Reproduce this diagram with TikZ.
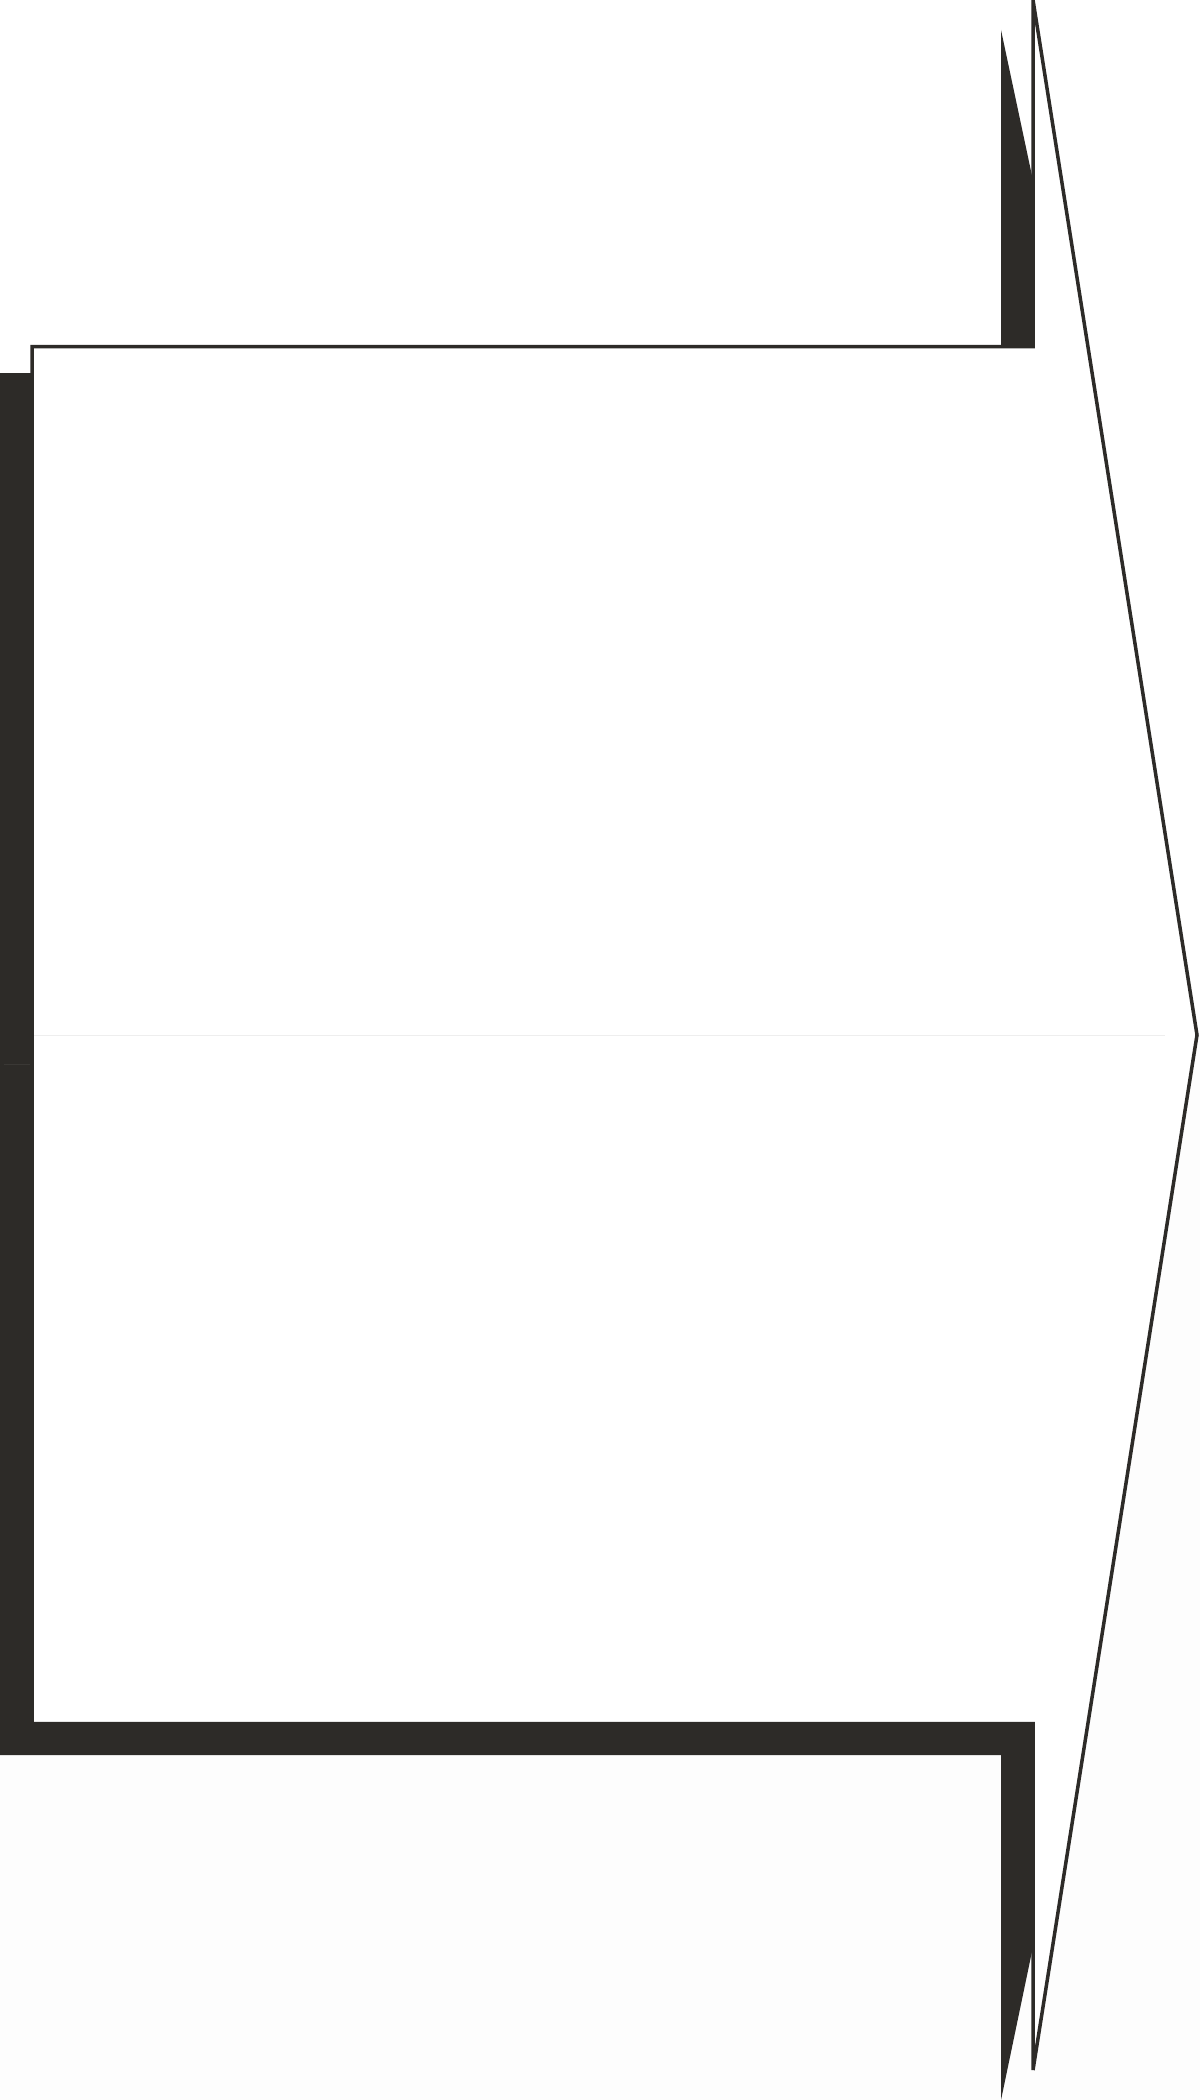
\documentclass[tikz,border=0pt]{standalone}
\definecolor{ink}{RGB}{45,43,40}
\definecolor{seam}{RGB}{238,238,238}
\definecolor{lowbg}{RGB}{253,253,253}
\begin{document}
\begin{tikzpicture}[x=1pt,y=-1pt,
  shadowfill/.style={fill=ink,draw=none},
  arrowbody/.style={fill=white,draw=ink,line width=3.5pt,line join=miter},
  midseam/.style={draw=seam,line width=1pt}]
\useasboundingbox (0,0) rectangle (1200,2100);
\fill[white] (0,0) rectangle (1200,1035);
\fill[lowbg] (0,1035) rectangle (1200,2100);
% shadow
\path[shadowfill] (0,373) -- (1001,373) -- (1001,30) -- (1035,190) -- (1035,1937)
  -- (1001,2100) -- (1001,1755) -- (0,1755) -- cycle;
\draw[draw={rgb,255:red,58;green,56;blue,53},line width=1pt] (4,1064) -- (30,1064);
% arrow
\path[arrowbody] (32,346.5) -- (1033,346.5) -- (1033,0) -- (1197,1035)
  -- (1033,2070) -- (1033,1723.5) -- (32,1723.5) -- cycle;
\coordinate (ml) at (34,1035);
\coordinate (mr) at (1165,1035);
\draw[midseam] (ml) -- (mr);
\end{tikzpicture}
\end{document}
